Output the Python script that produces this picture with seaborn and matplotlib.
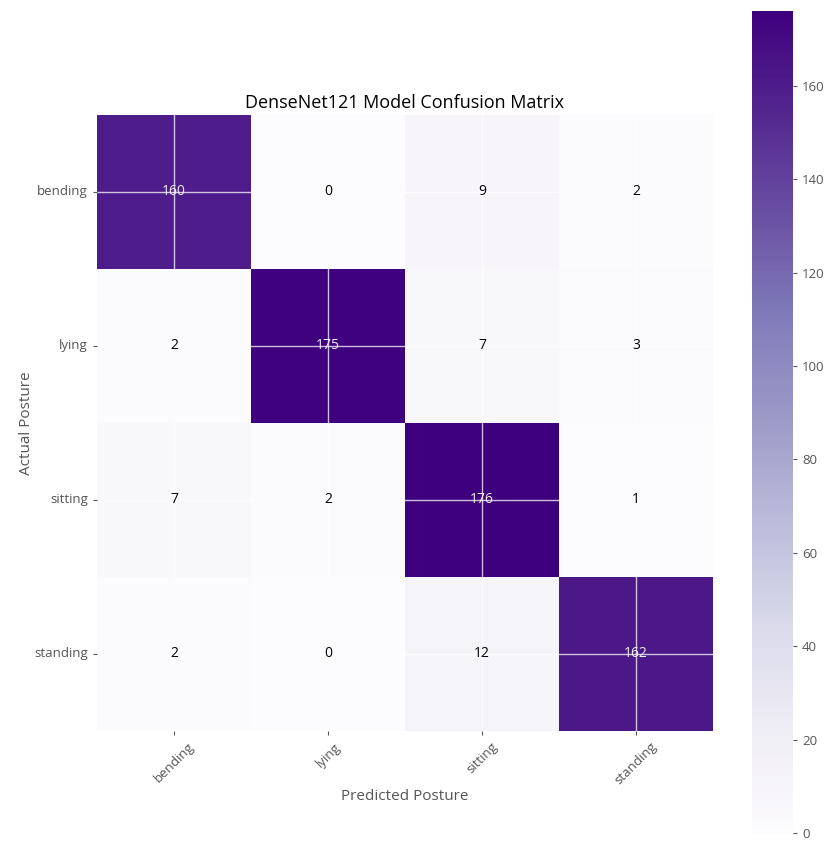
import numpy as np
import matplotlib
matplotlib.use("Agg")
import matplotlib.pyplot as plt
import seaborn as sns

# Posture classes and confusion counts (rows: actual, columns: predicted)
classes = ["bending", "lying", "sitting", "standing"]
row_bending = [160, 0, 9, 2]
row_lying = [2, 175, 7, 3]
row_sitting = [7, 2, 176, 1]
row_standing = [2, 0, 12, 162]

cm = np.array([row_bending, row_lying, row_sitting, row_standing])

plt.style.use("ggplot")
plt.rcParams["font.family"] = ["Open Sans", "DejaVu Sans"]

fig = plt.figure(figsize=(8.24, 8.43), dpi=100)
fig.patch.set_facecolor("white")
ax = fig.add_axes([0.1177, 0.1329, 0.7476, 0.7307])
cax = fig.add_axes([0.9126, 0.0119, 0.0498, 0.975])

sns.heatmap(cm, cmap="Purples", vmin=0, vmax=cm.max(), annot=True, fmt="d",
            annot_kws={"fontsize": 10}, cbar_ax=cax, ax=ax,
            xticklabels=classes, yticklabels=classes)

# dark text on light cells, light text on the dark diagonal
for txt in ax.texts:
    val = int(txt.get_text())
    txt.set_color("#eeeeee" if val > cm.max() / 2 else "black")

# white grid through the cell centres, drawn over the cells
ax.grid(True, color="white", alpha=0.75, linewidth=1.0)
ax.set_axisbelow(False)
for coll in ax.collections:
    coll.set_zorder(0.5)

ax.tick_params(axis="both", which="major", length=3, width=0.8,
               color="#555555", labelcolor="#555555", labelsize=9.5, direction="out")
plt.setp(ax.get_xticklabels(), rotation=45, ha="center")
plt.setp(ax.get_yticklabels(), rotation=0)

ax.set_title("DenseNet121 Model Confusion Matrix", fontsize=13, color="black", pad=5)
ax.set_xlabel("Predicted Posture", fontsize=11, color="#555555", labelpad=1)
ax.set_ylabel("Actual Posture", fontsize=11, color="#555555", labelpad=0)

cax.tick_params(length=3, color="#555555", labelcolor="#555555", labelsize=9.5)
cax.set_yticks([0, 20, 40, 60, 80, 100, 120, 140, 160])
for s in cax.spines.values():
    s.set_visible(False)

fig.savefig("out.png", dpi=100, facecolor="white")
